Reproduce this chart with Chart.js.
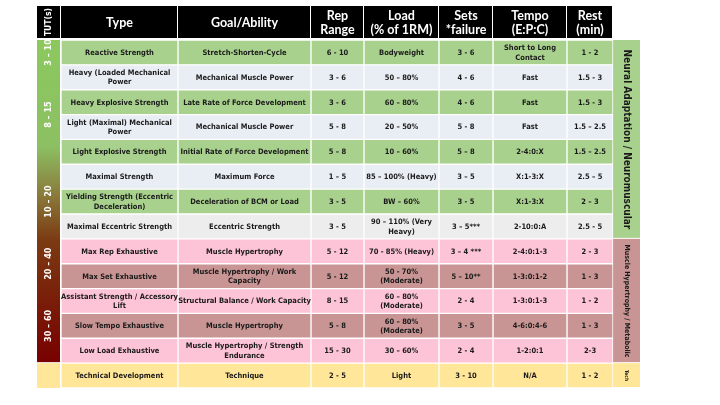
<!DOCTYPE html>
<html>
<head>
<meta charset="utf-8">
<script src="https://cdn.jsdelivr.net/npm/chart.js@4.4.1/dist/chart.umd.min.js"></script>
<style>
  html, body { margin: 0; padding: 0; background: #fff; }
  #wrap { width: 720px; height: 405px; }
</style>
</head>
<body>
<div id="wrap"><canvas id="c"></canvas></div>
<script>
'use strict';

// table content
var headers = ['TUT(s)', 'Type', 'Goal/Ability', 'Rep\nRange', 'Load\n(% of 1RM)', 'Sets\n*failure', 'Tempo\n(E:P:C)', 'Rest\n(min)'];

var types = ['Reactive Strength', 'Heavy (Loaded Mechanical\nPower', 'Heavy Explosive Strength',
    'Light (Maximal) Mechanical\nPower', 'Light Explosive Strength', 'Maximal Strength',
    'Yielding Strength (Eccentric\nDeceleration)', 'Maximal Eccentric Strength', 'Max Rep Exhaustive',
    'Max Set Exhaustive', 'Assistant Strength / Accessory\nLift', 'Slow Tempo Exhaustive',
    'Low Load Exhaustive', 'Technical Development'];
var goals = ['Stretch-Shorten-Cycle', 'Mechanical Muscle Power', 'Late Rate of Force Development',
    'Mechanical Muscle Power', 'Initial Rate of Force Development', 'Maximum Force',
    'Deceleration of BCM or Load', 'Eccentric Strength', 'Muscle Hypertrophy',
    'Muscle Hypertrophy / Work\nCapacity', 'Structural Balance / Work Capacity', 'Muscle Hypertrophy',
    'Muscle Hypertrophy / Strength\nEndurance', 'Technique'];
var reps = ['6 - 10', '3 - 6', '3 - 6', '5 - 8', '5 – 8', '1 – 5', '3 - 5', '3 - 5', '5 - 12', '5 - 12',
    '8 - 15', '5 - 8', '15 - 30', '2 - 5'];
var loads = ['Bodyweight', '50 – 80%', '60 – 80%', '20 – 50%', '10 – 60%', '85 – 100% (Heavy)', 'BW – 60%',
    '90 – 110% (Very\nHeavy)', '70 - 85% (Heavy)', '50 - 70%\n(Moderate)', '60 – 80%\n(Moderate)',
    '60 – 80%\n(Moderate)', '30 – 60%', 'Light'];
var sets = ['3 - 6', '4 - 6', '4 - 6', '5 - 8', '5 – 8', '3 – 5', '3 - 5', '3 – 5***', '3 – 4 ***', '5 – 10**',
    '2 - 4', '3 - 5', '2 - 4', '3 - 10'];
var tempos = ['Short to Long\nContact', 'Fast', 'Fast', 'Fast', '2-4:0:X', 'X:1-3:X', 'X:1-3:X', '2-10:0:A',
    '2-4:0:1-3', '1-3:0:1-2', '1-3:0:1-3', '4-6:0:4-6', '1-2:0:1', 'N/A'];
var rests = ['1 - 2', '1.5 - 3', '1.5 - 3', '1.5 – 2.5', '1.5 – 2.5', '2.5 – 5', '2 – 3', '2.5 - 5', '2 - 3',
    '1 - 3', '1 - 2', '1 - 3', '2-3', '1 - 2'];
var rowKinds = ['g', 'b', 'g', 'b', 'g', 'b', 'g', 'e', 'p', 'r', 'p', 'r', 'p', 'y'];

var tutGroups = [
    { label: '3 – 10', from: 0, to: 1 },
    { label: '8 – 15', from: 1, to: 5 },
    { label: '10 – 20', from: 5, to: 8 },
    { label: '20 – 40', from: 8, to: 10 },
    { label: '30 – 60', from: 10, to: 13 }
];
var bandGroups = [
    { label: 'Neural Adaptation / Neuromuscular', from: 0, to: 8, kind: 'g', size: 10 },
    { label: 'Muscle Hypertrophy / Metabolic', from: 8, to: 13, kind: 'r', size: 7 },
    { label: 'Tech', from: 13, to: 14, kind: 'y', size: 5 }
];

// layout / style
var colEdges = [0, 24, 141, 274, 327, 402, 456, 530, 576, 603];
var kindColors = { g: '#a9d18e', b: '#e9edf4', e: '#ededed', p: '#fdc3d7', r: '#c99594', y: '#ffe699' };
var FONT = "'DejaVu Sans Condensed', 'Liberation Sans Narrow', sans-serif";

var columns = [types, goals, reps, loads, sets, tempos, rests];
var rowLabels = types.map(function(t, i) { return 'r' + i; });

var datasets = columns.map(function(col, ci) {
    return {
        label: headers[ci + 1],
        texts: col,
        data: col.map(function() { return [colEdges[ci + 1], colEdges[ci + 2]]; }),
        backgroundColor: rowKinds.map(function(k) { return kindColors[k]; }),
        borderColor: '#ffffff',
        borderWidth: 1,
        borderSkipped: false,
        barPercentage: 1,
        categoryPercentage: 1,
        grouped: false
    };
});

function drawLines(ctx, text, x, y, lineH) {
    var lines = text.split('\n');
    var y0 = y - (lines.length - 1) * lineH / 2;
    lines.forEach(function(l, i) { ctx.fillText(l, x, y0 + i * lineH); });
}

var tablePlugin = {
    id: 'table',
    beforeDatasetsDraw: function(chart) {
        var ctx = chart.ctx, xs = chart.scales.x, ys = chart.scales.y;
        var rowH = ys.getPixelForValue(1) - ys.getPixelForValue(0);
        var top = function(i) { return ys.getPixelForValue(i) - rowH / 2; };
        ctx.save();
        // header
        var hTop = 6, hBot = top(0) - 2;
        for (var c = 0; c < headers.length; c++) {
            var x0 = xs.getPixelForValue(colEdges[c]), x1 = xs.getPixelForValue(colEdges[c + 1]);
            ctx.fillStyle = '#000';
            ctx.fillRect(x0, hTop, x1 - x0 - 1, hBot - hTop);
            ctx.fillStyle = '#fff';
            ctx.textAlign = 'center';
            ctx.textBaseline = 'middle';
            if (c === 0) {
                ctx.font = 'bold 8.5px ' + FONT;
                ctx.save();
                ctx.translate((x0 + x1) / 2, (hTop + hBot) / 2);
                ctx.rotate(-Math.PI / 2);
                ctx.fillText(headers[c], 0, 0);
                ctx.restore();
            } else {
                ctx.font = 'bold 12.5px Lato, sans-serif';
                drawLines(ctx, headers[c], (x0 + x1) / 2, (hTop + hBot) / 2 + 1, 14);
            }
        }
        // TUT column
        var tx0 = xs.getPixelForValue(colEdges[0]), tx1 = xs.getPixelForValue(colEdges[1]);
        var gTop = top(0), gBot = top(13);
        var grad = ctx.createLinearGradient(0, gTop, 0, gBot);
        grad.addColorStop(0, '#8cc85e');
        grad.addColorStop(0.33, '#8cc063');
        grad.addColorStop(0.48, '#8a7a3a');
        grad.addColorStop(0.62, '#7b3a12');
        grad.addColorStop(1, '#780000');
        ctx.fillStyle = grad;
        ctx.fillRect(tx0, gTop, tx1 - tx0 - 1, gBot - gTop - 1);
        ctx.fillStyle = kindColors.y;
        ctx.fillRect(tx0, top(13), tx1 - tx0 - 1, rowH);
        ctx.fillStyle = '#fff';
        ctx.font = 'bold 9px ' + FONT;
        tutGroups.forEach(function(g) {
            ctx.save();
            ctx.translate((tx0 + tx1) / 2, (top(g.from) + top(g.to)) / 2);
            ctx.rotate(-Math.PI / 2);
            ctx.fillText(g.label, 0, 0);
            ctx.restore();
        });
        // right band
        var bx0 = xs.getPixelForValue(colEdges[8]), bx1 = xs.getPixelForValue(colEdges[9]);
        bandGroups.forEach(function(g) {
            ctx.fillStyle = kindColors[g.kind];
            ctx.fillRect(bx0, top(g.from), bx1 - bx0, top(g.to) - top(g.from) - 1);
            ctx.fillStyle = '#1a1a1a';
            ctx.font = 'bold ' + g.size + 'px ' + FONT;
            ctx.save();
            ctx.translate((bx0 + bx1) / 2, (top(g.from) + top(g.to)) / 2);
            ctx.rotate(Math.PI / 2);
            ctx.fillText(g.label, 0, 0);
            ctx.restore();
        });
        ctx.restore();
    },
    afterDatasetsDraw: function(chart) {
        var ctx = chart.ctx;
        ctx.save();
        ctx.fillStyle = '#1a1a1a';
        ctx.textAlign = 'center';
        ctx.textBaseline = 'middle';
        ctx.font = 'bold 7.5px ' + FONT;
        chart.data.datasets.forEach(function(ds, di) {
            chart.getDatasetMeta(di).data.forEach(function(bar, i) {
                var p = bar.getProps(['x', 'y', 'base'], true);
                drawLines(ctx, ds.texts[i], (p.x + p.base) / 2, p.y + 0.5, 9.5);
            });
        });
        ctx.restore();
    }
};

new Chart(document.getElementById('c'), {
    type: 'bar',
    data: { labels: rowLabels, datasets: datasets },
    options: {
        indexAxis: 'y',
        responsive: true,
        maintainAspectRatio: false,
        animation: false,
        layout: { padding: { left: 37, right: 80, top: 40, bottom: 17 } },
        plugins: { legend: { display: false }, tooltip: { enabled: false } },
        scales: {
            x: { type: 'linear', min: colEdges[0], max: colEdges[colEdges.length - 1], display: false },
            y: { display: false }
        }
    },
    plugins: [tablePlugin]
});
</script>
</body>
</html>
